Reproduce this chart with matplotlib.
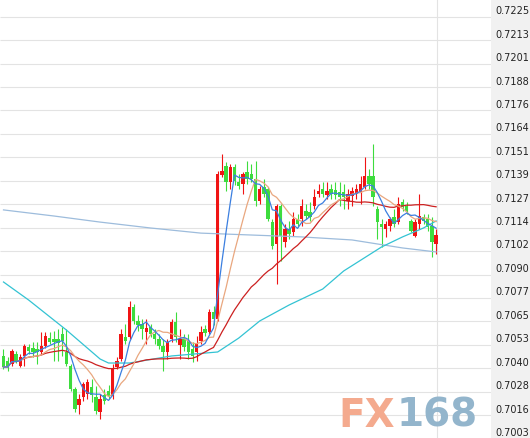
import numpy as np
import pandas as pd
import matplotlib
matplotlib.use("Agg")
import matplotlib.pyplot as plt
import matplotlib.transforms as mtrans
from matplotlib.patches import Rectangle

# ---------------- data ----------------
opens = [0.70469,0.70442,0.70427,0.70479,0.70416,0.70469,0.70516,0.70511,0.70506,0.70490,
         0.70521,0.70563,0.70558,0.70558,0.70584,0.70490,0.70416,0.70295,0.70211,0.70253,
         0.70269,0.70306,0.70253,0.70174,0.70264,0.70285,0.70258,0.70411,0.70453,0.70569,
         0.70569,0.70726,0.70653,0.70637,0.70595,0.70621,0.70584,0.70558,0.70521,0.70490,
         0.70558,0.70648,0.70527,0.70558,0.70548,0.70506,0.70490,0.70548,0.70611,0.70595,
         0.70700,0.70663,0.71421,0.71468,0.71384,0.71463,0.71384,0.71373,0.71436,0.71426,
         0.71400,0.71284,0.71357,0.71347,0.71173,0.71058,0.71258,0.71068,0.71137,0.71121,
         0.71189,0.71189,0.71231,0.71226,0.71258,0.71321,0.71347,0.71315,0.71347,0.71342,
         0.71331,0.71331,0.71284,0.71310,0.71321,0.71331,0.71357,0.71415,0.71415,0.71242,
         0.71163,0.71137,0.71152,0.71200,0.71173,0.71279,0.71258,0.71179,0.71100,0.71163,
         0.71200,0.71189,0.71152,0.71058]
highs = [0.70506,0.70463,0.70506,0.70495,0.70479,0.70532,0.70532,0.70542,0.70542,0.70595,
         0.70595,0.70595,0.70600,0.70611,0.70621,0.70611,0.70427,0.70306,0.70269,0.70332,
         0.70348,0.70348,0.70311,0.70269,0.70295,0.70316,0.70427,0.70463,0.70611,0.70637,
         0.70758,0.70742,0.70684,0.70663,0.70663,0.70637,0.70611,0.70584,0.70558,0.70558,
         0.70663,0.70700,0.70611,0.70584,0.70584,0.70542,0.70574,0.70627,0.70632,0.70716,
         0.70732,0.71442,0.71531,0.71489,0.71478,0.71478,0.71426,0.71436,0.71494,0.71478,
         0.71494,0.71363,0.71400,0.71357,0.71189,0.71268,0.71268,0.71163,0.71179,0.71226,
         0.71216,0.71294,0.71268,0.71279,0.71347,0.71373,0.71384,0.71384,0.71373,0.71384,
         0.71384,0.71373,0.71347,0.71357,0.71373,0.71415,0.71515,0.71452,0.71584,0.71258,
         0.71189,0.71179,0.71200,0.71242,0.71305,0.71294,0.71279,0.71189,0.71189,0.71321,
         0.71216,0.71216,0.71200,0.71137]
lows = [0.70400,0.70390,0.70416,0.70432,0.70411,0.70416,0.70479,0.70463,0.70427,0.70479,
        0.70511,0.70532,0.70442,0.70442,0.70469,0.70416,0.70285,0.70174,0.70164,0.70232,
        0.70243,0.70227,0.70164,0.70138,0.70216,0.70243,0.70243,0.70400,0.70442,0.70532,
        0.70558,0.70637,0.70600,0.70558,0.70532,0.70569,0.70532,0.70506,0.70390,0.70453,
        0.70542,0.70542,0.70453,0.70495,0.70453,0.70437,0.70442,0.70532,0.70574,0.70584,
        0.70632,0.70653,0.71410,0.71336,0.71347,0.71368,0.71347,0.71321,0.71373,0.71384,
        0.71258,0.71268,0.71305,0.71179,0.71031,0.70847,0.70968,0.71042,0.71084,0.71100,
        0.71147,0.71152,0.71189,0.71179,0.71242,0.71305,0.71305,0.71294,0.71294,0.71294,
        0.71258,0.71242,0.71242,0.71258,0.71294,0.71268,0.71347,0.71347,0.71258,0.71084,
        0.71042,0.71095,0.71126,0.71147,0.71163,0.71231,0.71216,0.71121,0.71095,0.71137,
        0.71163,0.71126,0.70989,0.71005]
closes = [0.70411,0.70411,0.70495,0.70442,0.70463,0.70521,0.70495,0.70490,0.70490,0.70521,
          0.70574,0.70542,0.70542,0.70537,0.70548,0.70427,0.70295,0.70190,0.70243,0.70321,
          0.70332,0.70264,0.70180,0.70243,0.70232,0.70258,0.70400,0.70442,0.70584,0.70548,
          0.70726,0.70653,0.70632,0.70611,0.70616,0.70584,0.70558,0.70521,0.70490,0.70542,
          0.70648,0.70569,0.70558,0.70516,0.70490,0.70469,0.70532,0.70595,0.70590,0.70700,
          0.70663,0.71426,0.71442,0.71384,0.71463,0.71389,0.71363,0.71426,0.71400,0.71400,
          0.71284,0.71347,0.71321,0.71189,0.71047,0.71258,0.71100,0.71137,0.71110,0.71189,
          0.71163,0.71258,0.71205,0.71200,0.71305,0.71336,0.71321,0.71336,0.71321,0.71315,
          0.71305,0.71305,0.71321,0.71336,0.71347,0.71373,0.71415,0.71373,0.71305,0.71173,
          0.71147,0.71163,0.71189,0.71163,0.71268,0.71252,0.71231,0.71126,0.71173,0.71205,
          0.71179,0.71147,0.71068,0.71105]

# long moving averages at candle indices
ma60_idx = [0, 6, 15, 23, 25, 30, 40, 51, 56, 61, 68, 76, 81, 90, 95, 100, 103]
ma60_val = [0.70858, 0.70763, 0.70605, 0.70453, 0.70432, 0.70432, 0.70469, 0.70490,
            0.70563, 0.70653, 0.70737, 0.70821, 0.70916, 0.71042, 0.71095, 0.71142, 0.71179]
malong_idx = [0, 12, 23, 35, 47, 59, 71, 83, 95, 103]
malong_val = [0.71237, 0.71205, 0.71173, 0.71142, 0.71115, 0.71105, 0.71095, 0.71079,
              0.71037, 0.71016]

tick_values = [0.70035, 0.70158, 0.70281, 0.70405, 0.70528, 0.70651, 0.70774, 0.70897,
               0.71021, 0.71144, 0.71267, 0.71390, 0.71513, 0.71637, 0.71760, 0.71883,
               0.72006, 0.72130, 0.72253]
tick_labels = ["0.7003", "0.7016", "0.7028", "0.7040", "0.7053", "0.7065", "0.7077",
               "0.7090", "0.7102", "0.7114", "0.7127", "0.7139", "0.7151", "0.7164",
               "0.7176", "0.7188", "0.7201", "0.7213", "0.7225"]

# ---------------- figure ----------------
W, H = 530, 439
fig = plt.figure(figsize=(W / 100, H / 100), dpi=100)
fig.patch.set_facecolor("white")
plot_right = 491
ax = fig.add_axes([0, 0, plot_right / W, 1])
ax.set_xlim(-0.833, 116.07)
ax.set_ylim(0.700377, 0.72346)
ax.set_axis_off()

# right label panel
fig.patches.append(Rectangle((plot_right / W, 0), 1 - plot_right / W, 1,
                             transform=fig.transFigure, facecolor="#f1f1f1",
                             edgecolor="none", zorder=0))

# grid
ax.hlines(tick_values, -0.833, 116.07, color="#e3e3e3", lw=0.8, zorder=1)
ax.axvline(103.2, color="#e3e3e3", lw=0.8, zorder=1)

# watermark
fig.text(395 / W, 1 - 427 / H, "FX", ha="right", va="baseline", fontsize=28,
         fontweight="bold", color="#f4aa8e", zorder=2)
fig.text(397 / W, 1 - 427 / H, "168", ha="left", va="baseline", fontsize=28,
         fontweight="bold", color="#93b5cc", zorder=2)

# candles
o = np.array(opens); c = np.array(closes); h = np.array(highs); l = np.array(lows)
x = np.arange(len(o))
up = c >= o
cols = np.where(up, "#f01414", "#3ddc3d")
ax.vlines(x, l, h, colors=cols, lw=0.8, zorder=3)
body_lo = np.minimum(o, c)
body_h = np.maximum(np.abs(c - o), 0.00004)
ax.bar(x, body_h, bottom=body_lo, width=0.8, color=cols, edgecolor="none", zorder=4)

# moving averages
cs = pd.Series(closes)
ma5 = cs.rolling(5, min_periods=1).mean()
ma10 = cs.rolling(10, min_periods=1).mean()
ma30 = cs.rolling(30, min_periods=1).mean()
ax.plot(malong_idx, malong_val, color="#9dbcdc", lw=0.9, zorder=5)
ax.plot(ma60_idx, ma60_val, color="#33c3d3", lw=0.9, zorder=5)
ax.plot(x, ma30, color="#cc2020", lw=0.9, zorder=5)
ax.plot(x, ma10, color="#e9a77f", lw=0.9, zorder=5)
ax.plot(x, ma5, color="#3b7fe0", lw=0.9, zorder=5)

# right-side price labels (sit just above their grid line)
tr = mtrans.blended_transform_factory(fig.transFigure, ax.transData)
tr = tr + mtrans.ScaledTranslation(0, 3.5 / 100, fig.dpi_scale_trans)
for v, s in zip(tick_values, tick_labels):
    fig.text(495 / W, v, s, transform=tr, ha="left", va="baseline",
             fontsize=7, color="#222222", zorder=6)

fig.savefig("out.png", dpi=100)
